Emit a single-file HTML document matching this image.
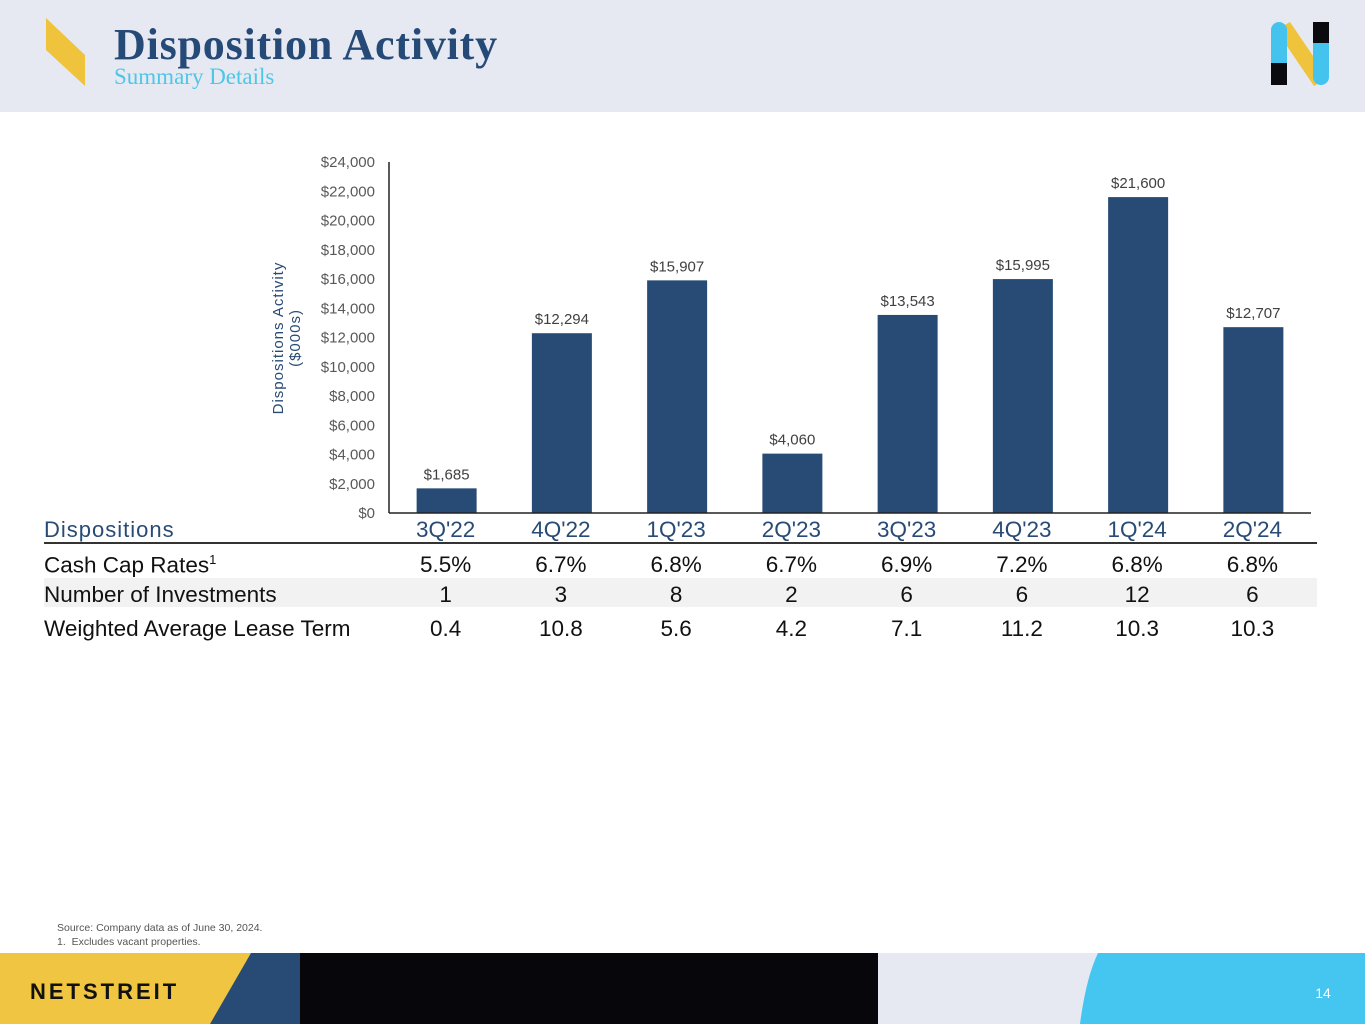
<!DOCTYPE html>
<html><head><meta charset="utf-8">
<style>
body{margin:0;width:1365px;height:1024px;position:relative;overflow:hidden;background:#fff;font-family:"Liberation Sans",sans-serif;}
.abs{position:absolute;white-space:nowrap}
</style></head><body>
<div class="abs" style="left:0;top:0;width:1365px;height:112px;background:#e6e9f1"></div>
<svg class="abs" style="left:0;top:0" width="1365" height="112">
  <polygon points="46,18 46,50 85,86 85,55" fill="#f0c33c"/>
  <g>
    <polygon points="1276,30 1290,22 1328,78 1314,86" fill="#f0c33c"/>
    <rect x="1271" y="22" width="16" height="63" rx="8" fill="#44c3ef"/>
    <rect x="1271" y="63" width="16" height="22" fill="#0b0b0f"/>
    <rect x="1313" y="22" width="16" height="63" rx="8" fill="#44c3ef"/>
    <rect x="1313" y="22" width="16" height="21" fill="#0b0b0f"/>
  </g>
</svg>
<div class="abs" style="left:114px;top:19px;font-family:'Liberation Serif',serif;font-weight:bold;font-size:44px;letter-spacing:0.8px;color:#264a77">Disposition Activity</div>
<div class="abs" style="left:114px;top:64px;font-family:'Liberation Serif',serif;font-size:23px;color:#4ec6e8">Summary Details</div>

<svg id="chart" class="abs" style="left:0;top:0" width="1365" height="660"></svg>

<div class="abs" style="left:44px;top:578px;width:1273px;height:29px;background:#f2f2f2"></div>
<div id="table" class="abs" style="left:0;top:0"></div>

<div class="abs" style="left:57px;top:922px;font-size:10.5px;color:#555">Source: Company data as of June 30, 2024.</div>
<div class="abs" style="left:57px;top:936px;font-size:10.5px;color:#555">1.&nbsp; Excludes vacant properties.</div>

<svg class="abs" style="left:0;top:953px" width="1365" height="71">
  <rect x="0" y="0" width="1365" height="71" fill="#e6e9f1"/>
  <rect x="200" y="0" width="100" height="71" fill="#284b76"/>
  <polygon points="0,0 251,0 210,71 0,71" fill="#f0c541"/>
  <rect x="300" y="0" width="578" height="71" fill="#07070b"/>
  <path d="M1098,0 L1365,0 L1365,71 L1080,71 Q1086,25 1098,0Z" fill="#44c6f0"/>
  <text x="30" y="46" font-family="Liberation Sans" font-size="22" font-weight="bold" letter-spacing="3" fill="#111">NETSTREIT</text>
  <text x="1323" y="45" font-family="Liberation Sans" font-size="14" fill="#fff" text-anchor="middle">14</text>
</svg>

<script>
const categories=["3Q'22","4Q'22","1Q'23","2Q'23","3Q'23","4Q'23","1Q'24","2Q'24"];
const values=[1685,12294,15907,4060,13543,15995,21600,12707];
const yTicks=[0,2000,4000,6000,8000,10000,12000,14000,16000,18000,20000,22000,24000];
const capRates=["5.5%","6.7%","6.8%","6.7%","6.9%","7.2%","6.8%","6.8%"];
const numInvestments=["1","3","8","2","6","6","12","6"];
const leaseTerms=["0.4","10.8","5.6","4.2","7.1","11.2","10.3","10.3"];

const NS="http://www.w3.org/2000/svg";
const svg=document.getElementById('chart');
const x0=389,x1=1311,yBase=513,yTop=162,yMax=24000;
const band=(x1-x0)/categories.length;
const xC=i=>x0+band*(i+0.5);
const yS=v=>yBase-(v/yMax)*(yBase-yTop);
function mk(tag,attrs,txt){const e=document.createElementNS(NS,tag);for(const k in attrs)e.setAttribute(k,attrs[k]);if(txt!=null)e.textContent=txt;svg.appendChild(e);return e;}
const fmt=v=>'$'+v.toLocaleString('en-US');

yTicks.forEach(t=>{
  const e=mk('text',{x:375,y:yS(t)+5,'text-anchor':'end','font-size':15,fill:'#595959','font-family':'Liberation Sans'},fmt(t));
  
  
});
values.forEach((v,i)=>{
  const r=mk('rect',{x:xC(i)-30,y:yS(v),width:60,height:yBase-yS(v),fill:'#284b76'});
  
  
  const t=mk('text',{x:xC(i),y:yS(v)-9,'text-anchor':'middle','font-size':15,fill:'#404040','font-family':'Liberation Sans'},fmt(v));
  
  
});
let ax=mk('line',{x1:x0,y1:yTop,x2:x0,y2:yBase,stroke:'#222','stroke-width':1.5});


let bx=mk('line',{x1:x0,y1:yBase,x2:x1,y2:yBase,stroke:'#222','stroke-width':1.5});


let yt=mk('text',{transform:'translate(285,338) rotate(-90)','text-anchor':'middle','font-size':15,fill:'#284b76','font-family':'Liberation Sans','letter-spacing':'1'});


const s1=document.createElementNS(NS,'tspan');s1.setAttribute('x',0);s1.setAttribute('dy',-2);s1.textContent='Dispositions Activity';yt.appendChild(s1);
const s2=document.createElementNS(NS,'tspan');s2.setAttribute('x',0);s2.setAttribute('dy',17);s2.textContent='($000s)';yt.appendChild(s2);

const tbl=document.getElementById('table');
function cell(txt,left,top,opts,name){const d=document.createElement('div');d.className='abs';d.style.left=left+'px';d.style.top=top+'px';Object.assign(d.style,opts);d.textContent=txt;tbl.appendChild(d);return d;}
cell('Dispositions',44,517,{fontSize:'22px',color:'#284b76',letterSpacing:'1px'},'table-header-label');
const hl=document.createElement('div');hl.className='abs';hl.style.cssText='left:44px;top:542px;width:1273px;height:1.5px;background:#333';tbl.appendChild(hl);
categories.forEach((c,i)=>cell(c,xC(i)-61,517,{width:'120px',textAlign:'center',fontSize:'22.5px',color:'#284b76'},'column-header'));
const rows=[["Cash Cap Rates",capRates,552],["Number of Investments",numInvestments,582],["Weighted Average Lease Term",leaseTerms,616]];
rows.forEach((r,ri)=>{
  const l=cell(r[0],44,r[2],{fontSize:'22.5px',color:'#111'},'row-label');
  if(ri===0){const s=document.createElement('sup');s.textContent='1';s.style.fontSize='13px';l.appendChild(s);}
  r[1].forEach((v,i)=>cell(v,xC(i)-61,r[2],{width:'120px',textAlign:'center',fontSize:'22.5px',color:'#111'},'row-value'));
});
</script>
</body></html>
